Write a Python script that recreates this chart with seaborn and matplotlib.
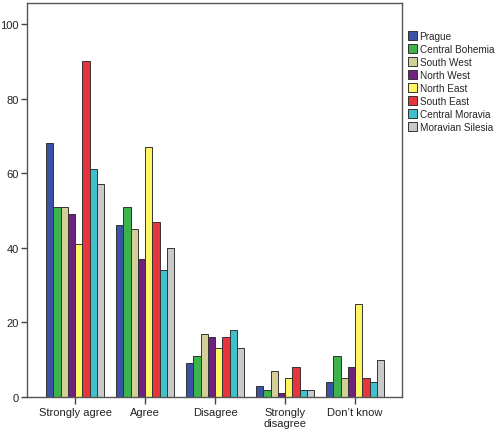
import numpy as np
import pandas as pd
import matplotlib
matplotlib.use('Agg')
import matplotlib.pyplot as plt
import seaborn as sns

answers = ['Strongly agree', 'Agree', 'Disagree', 'Strongly\ndisagree', 'Don\u2019t know']
regions = ['Prague', 'Central Bohemia', 'South West', 'North West',
           'North East', 'South East', 'Central Moravia', 'Moravian Silesia']

prague = [68, 46, 9, 3, 4]
central_bohemia = [51, 51, 11, 2, 11]
south_west = [51, 45, 17, 7, 5]
north_west = [49, 37, 16, 1, 8]
north_east = [41, 67, 13, 5, 25]
south_east = [90, 47, 16, 8, 5]
central_moravia = [61, 34, 18, 2, 4]
moravian_silesia = [57, 40, 13, 2, 10]

colors = ['#3A53A4', '#3CB44B', '#D4CF98', '#6F2180',
          '#FFF661', '#E8343D', '#40C0CA', '#C9C9C9']

series = [prague, central_bohemia, south_west, north_west,
          north_east, south_east, central_moravia, moravian_silesia]
rows = []
for reg, vals in zip(regions, series):
    for ans, v in zip(answers, vals):
        rows.append({'answer': ans, 'region': reg, 'value': v})
df = pd.DataFrame(rows)

sns.set_style('white', {'xtick.bottom': True, 'ytick.left': True})
plt.rcParams['font.family'] = ['Liberation Sans', 'DejaVu Sans']

fig = plt.figure(figsize=(4.97, 4.35), dpi=100)
ax = fig.add_axes([27 / 497, 1 - 398 / 435, (402 - 27) / 497, (398 - 4) / 435])

sns.barplot(data=df, x='answer', y='value', hue='region', order=answers,
            hue_order=regions, palette=colors, width=0.83, saturation=1,
            edgecolor='#333333', linewidth=0.7, errorbar=None, ax=ax)

ax.set_ylim(0, 105.6)
ax.set_xlim(-0.686, 4.67)
ax.set_yticks([0, 20, 40, 60, 80, 100])
ax.set_xlabel('')
ax.set_ylabel('')
ax.tick_params(axis='both', which='both', direction='out', length=4, width=1,
               color='#444444', labelsize=8, labelcolor='#222222', pad=2,
               bottom=True, left=True)
ax.tick_params(axis='x', length=5)
for s in ax.spines.values():
    s.set_color('#555555')
    s.set_linewidth(1.0)

handles, labels = ax.get_legend_handles_labels()
ax.legend_.remove()
fig.legend(handles, labels, loc='upper left', bbox_to_anchor=(402 / 497, 1 - 26 / 435),
           frameon=False, fontsize=7.2, handlelength=0.9, handleheight=0.9,
           handletextpad=0.25, labelspacing=0.3, borderaxespad=0.2)

fig.savefig('out.png', dpi=100)
